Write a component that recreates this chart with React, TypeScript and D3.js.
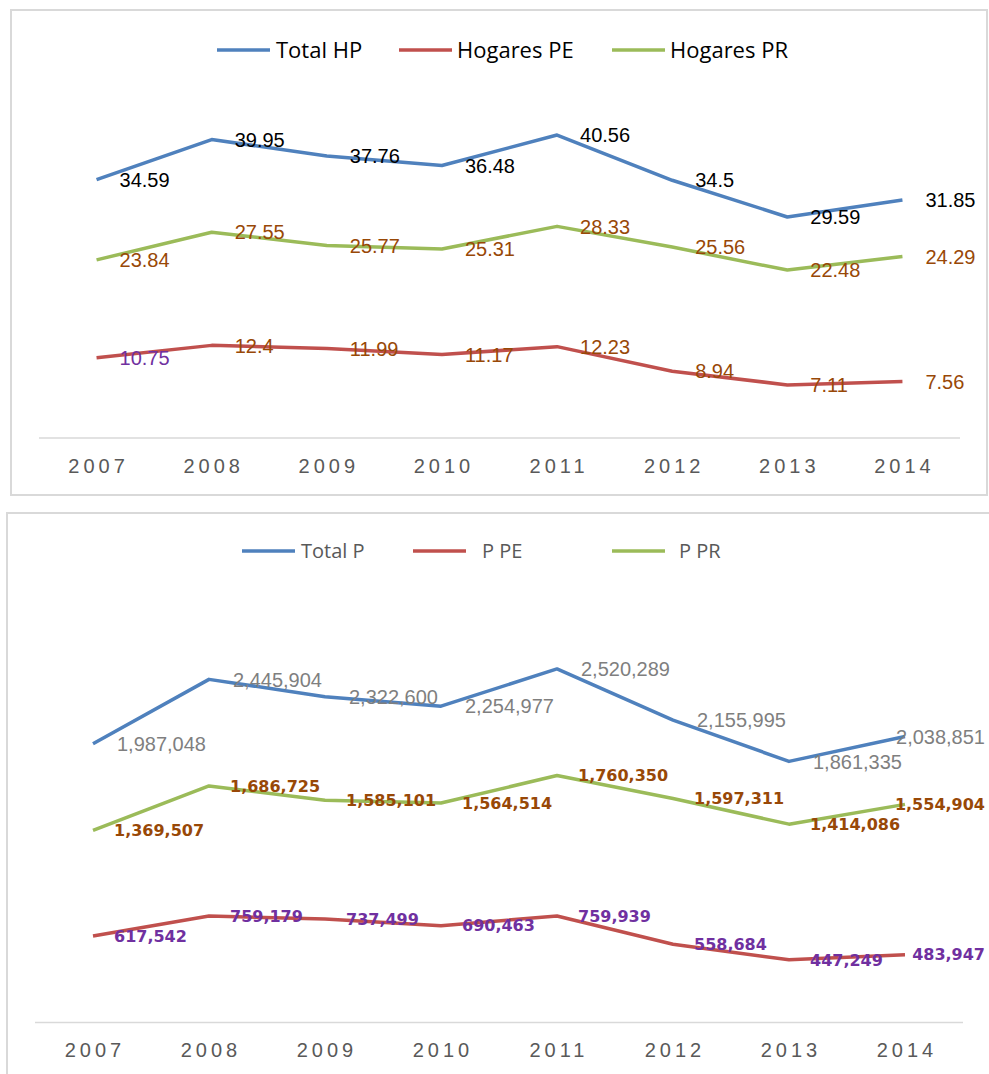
import React from "react";
import * as d3 from "d3";

const years = ["2007", "2008", "2009", "2010", "2011", "2012", "2013", "2014"];

// Top chart (percent of households)
const totalHP = [34.59, 39.95, 37.76, 36.48, 40.56, 34.5, 29.59, 31.85];
const hogaresPE = [10.75, 12.4, 11.99, 11.17, 12.23, 8.94, 7.11, 7.56];
const hogaresPR = [23.84, 27.55, 25.77, 25.31, 28.33, 25.56, 22.48, 24.29];
const topSeriesNames = ["Total HP", "Hogares PE", "Hogares PR"];

// Bottom chart (people)
const totalP = [1987048, 2445904, 2322600, 2254977, 2520289, 2155995, 1861335, 2038851];
const pPE = [617542, 759179, 737499, 690463, 759939, 558684, 447249, 483947];
const pPR = [1369507, 1686725, 1585101, 1564514, 1760350, 1597311, 1414086, 1554904];
const bottomSeriesNames = ["Total P", "P PE", "P PR"];

const BLUE = "#4f81bd";
const RED = "#c0504d";
const GREEN = "#9bbb59";
const BROWN = "#984807";
const PURPLE = "#7030a0";

let ctx: CanvasRenderingContext2D | null = null;
function measure(text: string, font: string) {
  if (!ctx) ctx = document.createElement("canvas").getContext("2d");
  ctx!.font = font;
  return ctx!.measureText(text).width;
}

type Series = {
  values: number[];
  color: string;
  labelColors: string[];
  fmt: (v: number) => string;
  family: string;
  size: number;
  weight: string;
  offset: number;
};

function Chart(props: {
  box: { x: number; y: number; w: number; h: number };
  xRange: [number, number];
  yDomain: [number, number];
  yRange: [number, number];
  series: Series[];
  legendNames: string[];
  legendColors: string[];
  legendStarts: number[];
  legendTextGap: number[];
  legendY: number;
  legendFont: { family: string; size: number; color: string };
  tickY: number;
  labelLimit: number;
}) {
  const x = d3.scaleBand<string>().domain(years).range(props.xRange);
  const cx = (i: number) => (x(years[i]) as number) + x.bandwidth() / 2;
  const y = d3.scaleLinear().domain(props.yDomain).range(props.yRange);
  const line = d3
    .line<number>()
    .x((_, i) => cx(i))
    .y((d) => y(d));
  const tickSpacing = 4;
  return (
    <g>
      <rect
        x={props.box.x}
        y={props.box.y}
        width={props.box.w}
        height={props.box.h}
        fill="#fff"
        stroke="#d9d9d9"
        strokeWidth={2}
      />
      <line
        x1={props.xRange[0]}
        x2={props.xRange[1]}
        y1={y(0)}
        y2={y(0)}
        stroke="#d9d9d9"
        strokeWidth={1.5}
      />
      {years.map((yr, i) => (
        <text
          key={yr}
          x={cx(i) + tickSpacing / 2}
          y={props.tickY}
          textAnchor="middle"
          fontFamily="Liberation Sans, Arial, sans-serif"
          fontSize={20}
          letterSpacing={tickSpacing}
          fill="#595959"
        >
          {yr}
        </text>
      ))}
      {props.series.map((s, si) => (
        <path
          key={si}
          d={line(s.values) as string}
          fill="none"
          stroke={s.color}
          strokeWidth={3.5}
          strokeLinejoin="round"
        />
      ))}
      {props.series.map((s, si) =>
        s.values.map((v, i) => {
          const txt = s.fmt(v);
          const font = `${s.weight} ${s.size}px ${s.family}`;
          const w = measure(txt, font);
          let lx = cx(i) + s.offset;
          if (lx + w > props.labelLimit) lx = props.labelLimit - w;
          return (
            <text
              key={si + "-" + i}
              x={lx}
              y={y(v)}
              dy="0.36em"
              fontFamily={s.family}
              fontWeight={s.weight}
              fontSize={s.size}
              fill={s.labelColors[i]}
            >
              {txt}
            </text>
          );
        })
      )}
      {props.legendNames.map((name, i) => (
        <g key={name}>
          <line
            x1={props.legendStarts[i]}
            x2={props.legendStarts[i] + 53}
            y1={props.legendY}
            y2={props.legendY}
            stroke={props.legendColors[i]}
            strokeWidth={3.5}
          />
          <text
            x={props.legendStarts[i] + 53 + props.legendTextGap[i]}
            y={props.legendY}
            dy="0.35em"
            fontFamily={props.legendFont.family}
            fontSize={props.legendFont.size}
            fill={props.legendFont.color}
          >
            {name}
          </text>
        </g>
      ))}
    </g>
  );
}

export default function App() {
  const fmtTop = (v: number) => String(v);
  const fmtBig = d3.format(",");
  const arial = "Liberation Sans, Arial, sans-serif";
  const dejavu = "DejaVu Sans, sans-serif";
  const topSeries: Series[] = [
    { values: totalHP, color: BLUE, labelColors: totalHP.map(() => "#000"), fmt: fmtTop, family: arial, size: 20, weight: "normal", offset: 23 },
    { values: hogaresPE, color: RED, labelColors: hogaresPE.map((_, i) => (i === 0 ? PURPLE : BROWN)), fmt: fmtTop, family: arial, size: 20, weight: "normal", offset: 23 },
    { values: hogaresPR, color: GREEN, labelColors: hogaresPR.map(() => BROWN), fmt: fmtTop, family: arial, size: 20, weight: "normal", offset: 23 },
  ];
  const bottomSeries: Series[] = [
    { values: totalP, color: BLUE, labelColors: totalP.map(() => "#7f7f7f"), fmt: fmtBig, family: arial, size: 20, weight: "normal", offset: 24 },
    { values: pPE, color: RED, labelColors: pPE.map(() => PURPLE), fmt: fmtBig, family: dejavu, size: 16, weight: "bold", offset: 21 },
    { values: pPR, color: GREEN, labelColors: pPR.map(() => BROWN), fmt: fmtBig, family: dejavu, size: 16, weight: "bold", offset: 21 },
  ];
  return (
    <div style={{ position: "absolute", left: 0, top: 0 }}>
      <svg width={989} height={1074} style={{ display: "block" }}>
        <rect width={989} height={1074} fill="#fff" />
        <Chart
          box={{ x: 11, y: 10, w: 976, h: 485 }}
          xRange={[39, 960]}
          yDomain={[0, 50]}
          yRange={[438, 64.5]}
          series={topSeries}
          legendNames={topSeriesNames}
          legendColors={[BLUE, RED, GREEN]}
          legendStarts={[217, 399, 612]}
          legendTextGap={[6, 5, 5]}
          legendY={50}
          legendFont={{ family: "Open Sans, sans-serif", size: 22, color: "#000" }}
          tickY={473}
          labelLimit={985}
        />
        <Chart
          box={{ x: 7, y: 513, w: 1000, h: 600 }}
          xRange={[35, 963]}
          yDomain={[0, 3000000]}
          yRange={[1022.6, 601.6]}
          series={bottomSeries}
          legendNames={bottomSeriesNames}
          legendColors={[BLUE, RED, GREEN]}
          legendStarts={[242, 413, 612]}
          legendTextGap={[6, 16, 14]}
          legendY={551}
          legendFont={{ family: "Open Sans, sans-serif", size: 20, color: "#595959" }}
          tickY={1057}
          labelLimit={985}
        />
      </svg>
    </div>
  );
}
